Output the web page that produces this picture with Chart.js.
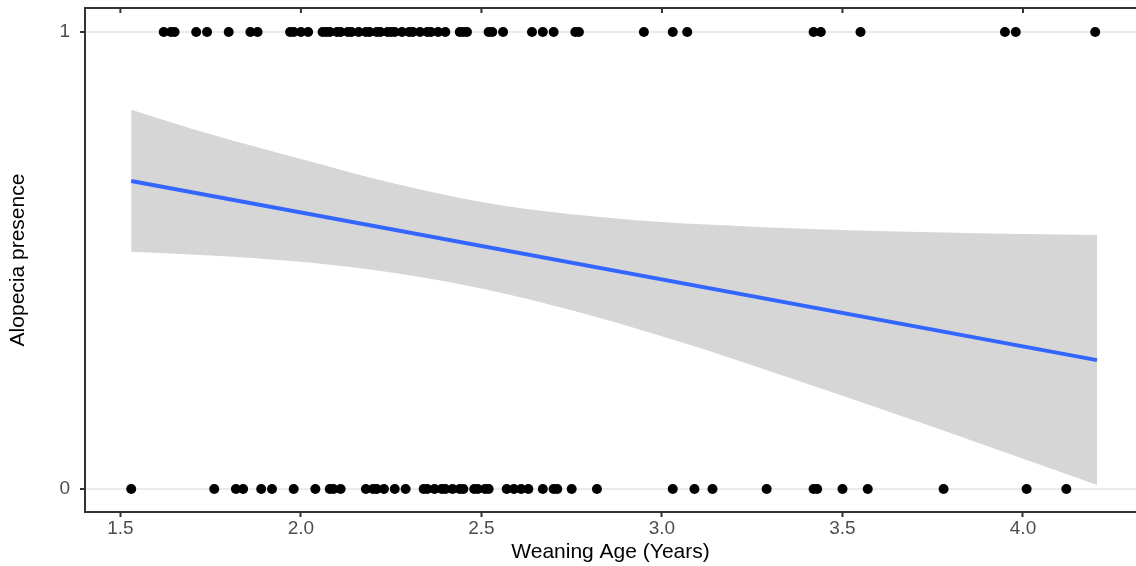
<!DOCTYPE html>
<html>
<head>
<meta charset="utf-8">
<script src="https://cdn.jsdelivr.net/npm/chart.js@4/dist/chart.umd.min.js"></script>
<style>
  html, body { margin: 0; padding: 0; background: #fff; overflow: hidden; }
  #wrap { width: 1141px; height: 566px; }
</style>
</head>
<body>
<div id="wrap"><canvas id="myChart"></canvas></div>
<script>
// weaning ages of animals with alopecia (1) and without (0)
const presentAges = [1.62, 1.64, 1.65, 1.71, 1.74, 1.80, 1.86, 1.88, 1.97, 1.98, 2.00, 2.02,
  2.06, 2.07, 2.08, 2.10, 2.11, 2.13, 2.14, 2.16, 2.18, 2.19, 2.21, 2.22, 2.24, 2.25, 2.26,
  2.28, 2.30, 2.31, 2.33, 2.35, 2.36, 2.38, 2.40, 2.44, 2.45, 2.46, 2.52, 2.53, 2.56, 2.64,
  2.67, 2.70, 2.76, 2.77, 2.95, 3.03, 3.07, 3.42, 3.44, 3.55, 3.95, 3.98, 4.20];
const absentAges = [1.53, 1.76, 1.82, 1.84, 1.89, 1.92, 1.98, 2.04, 2.08, 2.09, 2.11, 2.18,
  2.20, 2.21, 2.23, 2.26, 2.29, 2.34, 2.35, 2.37, 2.39, 2.40, 2.42, 2.44, 2.45, 2.48, 2.49,
  2.51, 2.52, 2.57, 2.59, 2.61, 2.63, 2.67, 2.70, 2.71, 2.75, 2.82, 3.03, 3.09, 3.14, 3.29,
  3.42, 3.43, 3.50, 3.57, 3.78, 4.01, 4.12];

// fitted line and confidence band
const fitAges = [1.53, 4.205];
const fitValues = [0.674, 0.282];
const bandAges = [1.53, 1.75, 2.0, 2.25, 2.5, 2.75, 3.0, 3.25, 3.5, 3.75, 4.0, 4.205];
const bandUpper = [0.830, 0.776, 0.722, 0.670, 0.628, 0.601, 0.584, 0.574, 0.567, 0.562, 0.558, 0.556];
const bandLower = [0.519, 0.511, 0.497, 0.474, 0.439, 0.391, 0.334, 0.271, 0.204, 0.136, 0.066, 0.009];

const xTicks = [1.5, 2.0, 2.5, 3.0, 3.5, 4.0];
const yTicks = [0, 1];

const toPoints = (xs, ys) => xs.map((x, i) => ({ x: x, y: ys[i] }));

const tickFont = { family: "'Liberation Sans', Arial, sans-serif", size: 19 };
const titleFont = { family: "'Liberation Sans', Arial, sans-serif", size: 21 };

// top frame line with small inward ticks
const topFrame = {
  id: "topFrame",
  afterDraw(chart) {
    const { ctx, chartArea, scales } = chart;
    ctx.save();
    ctx.strokeStyle = "#333333";
    ctx.lineWidth = 2;
    ctx.beginPath();
    ctx.moveTo(chartArea.left - 1, chartArea.top);
    ctx.lineTo(chartArea.right, chartArea.top);
    xTicks.forEach((v) => {
      const px = scales.x.getPixelForValue(v);
      ctx.moveTo(px, chartArea.top);
      ctx.lineTo(px, chartArea.top + 5);
    });
    ctx.stroke();
    ctx.restore();
  },
};

const noPad = (scale) => {
  scale.paddingTop = 0;
  scale.paddingBottom = 0;
  scale.paddingLeft = 0;
  scale.paddingRight = 0;
};

const config = {
  type: "scatter",
  data: {
    datasets: [
      {
        label: "present",
        data: presentAges.map((x) => ({ x: x, y: 1 })),
        backgroundColor: "#000000",
        borderWidth: 0,
        pointRadius: 5,
        order: 0,
      },
      {
        label: "absent",
        data: absentAges.map((x) => ({ x: x, y: 0 })),
        backgroundColor: "#000000",
        borderWidth: 0,
        pointRadius: 5,
        order: 0,
      },
      {
        label: "fit",
        data: toPoints(fitAges, fitValues),
        showLine: true,
        borderColor: "#3366FF",
        borderWidth: 4,
        pointRadius: 0,
        order: 1,
      },
      {
        label: "upper",
        data: toPoints(bandAges, bandUpper),
        showLine: true,
        cubicInterpolationMode: "monotone",
        borderWidth: 0,
        borderColor: "rgba(0,0,0,0)",
        backgroundColor: "#d6d6d6",
        fill: "+1",
        pointRadius: 0,
        order: 2,
      },
      {
        label: "lower",
        data: toPoints(bandAges, bandLower),
        showLine: true,
        cubicInterpolationMode: "monotone",
        borderWidth: 0,
        borderColor: "rgba(0,0,0,0)",
        pointRadius: 0,
        fill: false,
        order: 2,
      },
    ],
  },
  options: {
    responsive: true,
    maintainAspectRatio: false,
    animation: false,
    events: [],
    layout: { padding: { top: 8, right: 0, left: 0, bottom: 0 } },
    plugins: { legend: { display: false }, tooltip: { enabled: false } },
    scales: {
      x: {
        type: "linear",
        min: 1.402,
        max: 4.313,
        afterBuildTicks: (scale) => { scale.ticks = xTicks.map((v) => ({ value: v })); },
        afterFit: (scale) => { scale.height = 54; noPad(scale); },
        ticks: {
          callback: (v) => Number(v).toFixed(1),
          color: "#4d4d4d",
          font: tickFont,
          padding: 0,
          maxRotation: 0,
        },
        grid: { drawOnChartArea: false, tickLength: 5, tickColor: "#333333", tickWidth: 2 },
        border: { color: "#333333", width: 2 },
        title: {
          display: true,
          text: "Weaning Age (Years)",
          color: "#000000",
          font: titleFont,
          padding: { top: 0, bottom: 1 },
        },
      },
      y: {
        type: "linear",
        min: -0.0503,
        max: 1.0525,
        afterBuildTicks: (scale) => { scale.ticks = yTicks.map((v) => ({ value: v })); },
        afterFit: (scale) => { scale.width = 85; noPad(scale); },
        ticks: { color: "#4d4d4d", font: tickFont, padding: 10 },
        grid: { color: "#ebebeb", lineWidth: 2, tickLength: 5, tickColor: "#333333", tickWidth: 2 },
        border: { color: "#333333", width: 2 },
        title: {
          display: true,
          text: "Alopecia presence",
          color: "#000000",
          font: titleFont,
          padding: { top: 6, bottom: 0 },
        },
      },
    },
  },
  plugins: [topFrame],
};

const myChart = new Chart(document.getElementById("myChart"), config);
</script>
</body>
</html>
